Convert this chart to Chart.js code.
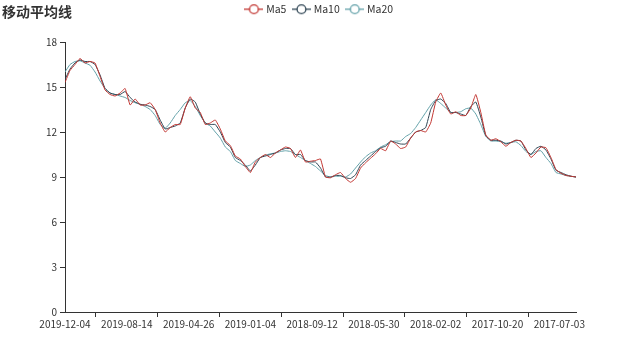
<!DOCTYPE html>
<html><head><meta charset="utf-8">
<script src="https://cdn.jsdelivr.net/npm/chart.js@4"></script>
<style>
html,body{margin:0;padding:0;background:#fff;}
#wrap{position:relative;width:640px;height:356px;}
#title{position:absolute;left:2px;top:1px;font:bold 14px "Noto Sans CJK SC",sans-serif;color:#333;line-height:20px;}
canvas{position:absolute;left:0;top:0;}
</style></head><body>
<div id="wrap"><canvas id="c" width="640" height="356"></canvas><div id="title">移动平均线</div></div>
<script>
const tickLabels = ['2019-12-04','2019-08-14','2019-04-26','2019-01-04','2018-09-12','2018-05-30','2018-02-02','2017-10-20','2017-07-03'];
const labelStep = 74;
const dayStep = 6;
const lastDay = 612;
const yTicks = [0, 3, 6, 9, 12, 15, 18];

const ma5 = [15.3,16.1,16.5,16.9,16.6,16.7,16.6,15.7,14.8,14.5,
14.4,14.6,14.9,13.8,14.2,13.8,13.8,13.95,13.5,12.6,
12.0,12.3,12.5,12.5,13.6,14.35,13.6,13.3,12.5,12.6,
12.8,12.2,11.4,11.1,10.4,10.2,9.7,9.3,10.0,10.3,
10.5,10.3,10.6,10.8,11.0,10.9,10.3,10.8,10.0,10.05,
10.1,10.2,9.0,8.95,9.15,9.3,8.9,8.65,8.9,9.6,
9.95,10.25,10.55,10.9,10.75,11.4,11.2,10.9,11.0,11.6,
12.0,12.1,12.0,12.6,14.0,14.6,13.8,13.2,13.35,13.1,
13.1,13.6,14.5,13.3,11.8,11.45,11.55,11.35,11.05,11.3,
11.45,11.4,10.9,10.3,10.6,11.0,10.95,10.3,9.5,9.25,
9.1,9.05,9.0];
const ma10 = [15.5,16.2,16.6,16.8,16.7,16.7,16.5,15.8,14.9,14.6,
14.5,14.5,14.7,14.3,14.0,13.85,13.8,13.7,13.5,12.8,
12.2,12.3,12.4,12.6,13.6,14.2,14.0,13.2,12.6,12.5,
12.5,12.0,11.3,11.0,10.3,10.1,9.8,9.4,9.8,10.3,
10.4,10.5,10.6,10.8,10.9,10.9,10.5,10.5,10.1,10.0,
10.0,9.6,9.0,9.0,9.1,9.1,8.95,8.9,9.15,9.8,
10.1,10.4,10.7,10.95,11.05,11.4,11.3,11.2,11.2,11.6,
12.0,12.1,12.3,13.5,14.1,14.2,13.9,13.3,13.3,13.2,
13.1,13.7,14.0,13.0,11.75,11.45,11.45,11.4,11.2,11.3,
11.45,11.4,10.8,10.5,10.9,11.05,10.8,10.2,9.45,9.3,
9.15,9.05,9.0];
const ma20 = [16.0,16.5,16.7,16.75,16.6,16.45,16.0,15.4,14.9,14.6,
14.5,14.4,14.3,14.1,13.95,13.85,13.7,13.5,13.1,12.5,
12.25,12.6,13.1,13.5,13.95,14.1,13.7,13.1,12.6,12.4,
12.0,11.6,11.0,10.7,10.1,9.9,9.7,9.8,10.1,10.3,
10.45,10.55,10.6,10.7,10.75,10.7,10.5,10.3,10.1,9.9,
9.7,9.4,9.1,9.0,9.05,9.05,9.0,9.2,9.6,10.0,
10.35,10.6,10.75,11.0,11.15,11.35,11.4,11.4,11.7,11.9,
12.3,12.8,13.3,13.8,14.15,13.9,13.6,13.3,13.3,13.35,
13.55,13.6,13.2,12.5,11.7,11.4,11.4,11.35,11.25,11.3,
11.35,11.1,10.7,10.5,10.7,10.75,10.3,9.9,9.3,9.2,
9.1,9.05,9.0];

const seriesNames = ['Ma5','Ma10','Ma20'];
const seriesColors = ['#c23531','#2f4554','#61a0a8'];
const seriesData = [ma5, ma10, ma20];

function legendIcon(color){
  const c = document.createElement('canvas');
  c.width = 19; c.height = 12;
  const g = c.getContext('2d');
  g.strokeStyle = color; g.lineWidth = 1.3;
  g.beginPath(); g.moveTo(0, 6); g.lineTo(19, 6); g.stroke();
  g.beginPath(); g.arc(9.5, 6, 4.4, 0, Math.PI*2);
  g.fillStyle = '#fff'; g.fill(); g.stroke();
  return c;
}

const FONT = '"Noto Sans CJK SC", "Noto Sans", sans-serif';

const legendFix = {
  id: 'legendFix',
  beforeInit(chart){
    const lg = chart.legend;
    const f = lg.fit;
    lg.fit = function(){ f.call(this); this.height = 42; };
  },
  afterLayout(chart){
    const lg = chart.legend;
    lg.top -= 4;
    lg.left += 32;
    lg.right += 32;
  }
};

new Chart(document.getElementById('c'), {
  type: 'line',
  data: {
    datasets: seriesData.map((arr, si) => ({
      label: seriesNames[si],
      data: arr.map((v, i) => ({x: i * dayStep, y: v})),
      borderColor: seriesColors[si],
      backgroundColor: '#fff',
      borderWidth: 1,
      pointRadius: 0,
      pointHoverRadius: 0,
      pointStyle: legendIcon(seriesColors[si]),
      tension: 0.12,
      fill: false
    }))
  },
  options: {
    responsive: false,
    devicePixelRatio: 1,
    animation: false,
    layout: { padding: { left: 0, right: 64, top: 0, bottom: 0 } },
    plugins: {
      legend: {
        position: 'top',
        align: 'center',
        labels: {
          usePointStyle: true,
          pointStyleWidth: 14,
          boxHeight: 10,
          padding: 8,
          color: '#333',
          font: { size: 10.5, family: FONT }
        }
      },
      title: { display: false },
      tooltip: { enabled: false }
    },
    scales: {
      x: {
        type: 'linear',
        min: 0,
        max: lastDay,
        bounds: 'data',
        afterBuildTicks: s => {
          const t = [];
          for (let v = 0; v <= lastDay; v += labelStep / 2) t.push({value: v});
          s.ticks = t;
        },
        afterFit: s => { s.height = 44; },
        ticks: {
          autoSkip: false,
          maxRotation: 0,
          minRotation: 0,
          padding: 1,
          color: '#333',
          font: { size: 10, family: FONT },
          callback: (v, i) => (i % 2 === 0 ? (tickLabels[i / 2] || '') : '')
        },
        grid: {
          drawOnChartArea: false,
          tickLength: 5,
          tickColor: c => (c.index % 2 === 1 ? '#333' : 'rgba(0,0,0,0)')
        },
        border: { color: '#333', width: 1 }
      },
      y: {
        min: 0,
        max: 18,
        afterBuildTicks: s => { s.ticks = yTicks.map(v => ({value: v})); },
        afterFit: s => { s.width = 65; },
        ticks: {
          padding: 3,
          color: '#333',
          font: { size: 10, family: FONT }
        },
        grid: { drawOnChartArea: false, tickLength: 5, tickColor: '#333' },
        border: { color: '#333', width: 1 }
      }
    }
  },
  plugins: [legendFix]
});
</script>
</body></html>
